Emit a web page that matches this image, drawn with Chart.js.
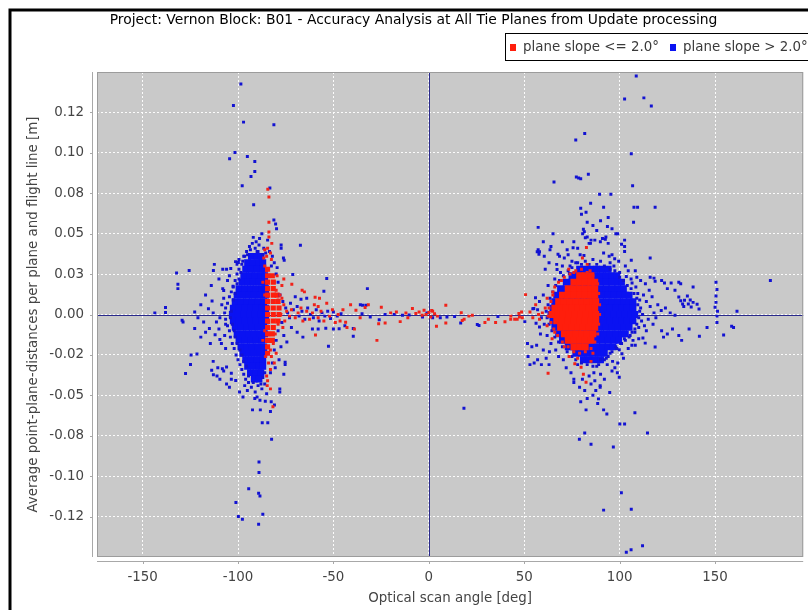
<!DOCTYPE html>
<html>
<head>
<meta charset="utf-8">
<script src="https://cdn.jsdelivr.net/npm/chart.js@4.4.1/dist/chart.umd.min.js"></script>
<style>
  html, body { margin: 0; padding: 0; background: #fff; }
  #wrap { width: 808px; height: 610px; }
</style>
</head>
<body>
<div id="wrap"><canvas id="chart" width="808" height="610"></canvas></div>
<script>
// Series names and axis ticks
const chartTitle = 'Project: Vernon Block: B01 - Accuracy Analysis at All Tie Planes from Update processing';
const seriesNames = ['plane slope <= 2.0°', 'plane slope > 2.0°'];
const xTickValues = [-150, -100, -50, 0, 50, 100, 150];
const yTickValues = [-0.125, -0.1, -0.075, -0.05, -0.025, 0, 0.025, 0.05, 0.075, 0.1, 0.125];
const yTickLabels = ['-0.12', '-0.10', '-0.08', '-0.05', '-0.02', '0.00', '0.03', '0.05', '0.08', '0.10', '0.12'];

// Red: plane slope <= 2.0  [scan angle, distance]
const redPoints = [
  [-84.4,0.0775],[-83.8,0.0727],[-83.8,0.057],[-83.8,0.051],[-83.8,0.048],[-82.3,0.044],[-84.5,0.041],[-83,0.038],
  [-85,0.036],[-82.5,0.034],[-71.8,0.0187],[-66.4,0.015],[-65.2,0.014],[-59.6,0.0107],[-57.3,0.01],[-81.7,-0.057],
  [-84.7,-0.044],[-27.2,-0.016],[-59.4,-0.0127],[-84,-0.03],[-83,-0.034],[-85,-0.038],[-82.5,-0.026],[-84.5,-0.041],
  [-83,-0.046],[-78,0.012],[-76,0.006],[-74.5,0.002],[-73,-0.001],[-75.5,-0.004],[-77,0.018],[-76,0.022],[-72,0.003],
  [-70,-0.002],[-68.5,0.001],[-67,0.004],[-66,-0.004],[-64,0.002],[-62.5,-0.003],[-61,0.001],[-60,0.006],[-58,-0.002],
  [-56.5,0.002],[-55,-0.004],[-53.5,0.007],[-52,-0.001],[-50.5,0.003],[-49,-0.005],[-47.5,0.0],[-45,0.003],
  [-43.6,-0.0048],[-42.9,-0.0081],[-39,-0.009],[-38.2,0.0026],[-33.4,0.0043],[-31.7,0.006],[-24.9,0.0045],
  [-22.9,-0.0053],[-26.3,-0.0057],[-15,-0.0044],[-12,0.0009],[-8.6,0.0037],[-6.8,0.0006],[-5.1,0.0016],[-2.5,0.0026],
  [-1.5,0.0],[0,0.0013],[1,-0.0015],[2,0.002],[3,0.0005],[4.5,-0.001],[-3.5,-0.0005],[1.5,0.0025],[8.9,0.0057],
  [4,-0.0073],[8.9,-0.0053],[17,0.0011],[17.5,-0.0037],[18.5,-0.003],[21,-0.001],[22.8,-0.0005],[29.4,-0.005],
  [31.2,-0.003],[35,-0.005],[39.9,-0.0045],[42.9,-0.003],[46.3,-0.003],[47.2,0.0006],[48.6,0.0016],[50.7,0.0123],
  [-58,0.005],[-46.5,-0.004],[-41,0.006],[-36,-0.002],[-20,0.001],[-11,-0.002],[-17,0.0015],
  [43,-0.001],[45,-0.003],[47.5,-0.0015],[49,-0.002],[62.5,-0.0363],[76.5,-0.0305],[79.8,-0.0326],[82.4,-0.0419],
  [81,-0.037],[64.6,-0.015],[82.6,0.0415],[73.3,0.028],[76,0.026],[80.5,0.035],[83,0.031],[61,0.004],[59.5,0.001],
  [58,-0.003],[56,0.006],[62,-0.007],[65,0.014],[66,-0.011],[69.5,0.021],[71,-0.02],[73.5,-0.026],[78,-0.027],
  [84.5,0.027],[86,-0.024],[85,-0.029],[62,0.01],[57.5,0.0],[53,0.0015],[54.5,-0.002],
  [-86,0.03],[-85,0.027],[-83.5,0.024],[-81,0.02],[-80,0.015],[-79,0.009],[-78.5,0.004],[-77.5,0.0],[-79,-0.006],
  [-80.5,-0.012],[-81.5,-0.018],[-83,-0.022],[-85.5,-0.026],[-86,0.012],[-86,-0.01],[-82,0.008],[-84,-0.005],
  [-87,0.02],[-87,-0.016],[-80,-0.024],[-79.5,0.024],[-77,0.01],[-76.5,-0.008],[-81,-0.03],[-86.5,0.035],[-86,0.04]
];
// Red points along the rim of the right cluster
const redRimPoints = [
  [66,0.017],[68,0.02],[71,0.023],[74,0.025],[77,0.027],[80,0.028],[83,0.026],[86,0.024],[88.5,0.019],[89,0.013],
  [89.5,0.006],[89.5,0.0],[89,-0.006],[88.5,-0.012],[87,-0.017],[85,-0.021],[82,-0.023],[79,-0.024],[76,-0.023],
  [73,-0.02],[70,-0.017],[67.5,-0.013],[65.5,-0.009],[64,-0.005],[62.5,-0.001],[63,0.004],[64,0.008],[65,0.012]
];

// Blue: plane slope > 2.0, left side and centre
const bluePointsLeft = [
  [-98.5,0.1426],[-102.4,0.1293],[-97.1,0.119],[-81.2,0.1174],[-101.6,0.1002],[-104.4,0.0963],[-95.1,0.0977],
  [-91.2,0.0946],[-91.2,0.0884],[-93.2,0.0853],[-97.8,0.0797],[-83.3,0.0783],[-91.8,0.0679],[-81.2,0.0584],
  [-80.3,0.056],[-79.8,0.053],[-67.3,0.0429],[-77.4,0.043],[-77.4,0.041],[-76.2,0.035],[-75.8,0.0335],[-71.3,0.0248],
  [-53.5,0.0223],[-32.2,0.016],[-132.2,0.0257],[-125.6,0.0272],[-131.5,0.0187],[-131.5,0.016],[-112.4,0.031],
  [-112.9,0.0272],[-106,0.028],[-103.8,0.0285],[-101.3,0.0327],[-99.8,0.0322],[-108,0.016],[-107.5,0.0148],
  [-92,0.0477],[-90.5,0.045],[-89,0.043],[-88.7,0.047],[-86.5,0.041],[-85.5,0.038],[-90,0.039],[-93.5,0.04],
  [-87.5,0.05],[-84.5,0.046],[-95,0.037],[-97,0.036],[-99.5,0.034],[-100.5,0.031],[-83.5,0.039],[-82,0.036],
  [-108,0.028],[-104.5,0.024],[-102.6,0.0175],[-105.5,0.021],[-110,0.022],[-114,0.018],[-117,0.012],[-119.5,0.006],
  [-122.7,0.0016],[-121,-0.002],[-118,-0.0047],[-115.5,0.0035],[-113,0.001],[-111.3,-0.0047],[-108.5,0.006],
  [-109.5,-0.002],[-107.5,0.01],[-106.5,-0.006],[-122.7,-0.0087],[-119.5,-0.014],[-117,-0.011],[-115,-0.0087],
  [-114.5,-0.018],[-112,-0.0125],[-110,-0.009],[-109.5,-0.0155],[-108.7,-0.018],[-107,-0.013],[-106.5,-0.021],
  [-124.6,-0.025],[-127.5,-0.0365],[-113.8,-0.0345],[-113,-0.029],[-111,-0.038],[-109.5,-0.04],[-107.5,-0.035],
  [-106,-0.043],[-104.5,-0.045],[-103.5,-0.04],[-129.3,-0.0036],[-128.8,-0.0046],[-124.9,-0.0309],[-121.5,-0.0245],
  [-113.6,0.0084],[-112.9,-0.0373],[-110.6,-0.033],[-108.2,-0.0335],[-106,-0.0325],[-103.5,-0.0363],[-101.2,-0.0408],
  [-99.2,-0.048],[-97.4,-0.051],[-95.1,-0.047],[-91.2,-0.052],[-88.5,-0.053],[-85.7,-0.0537],[-92.4,-0.059],
  [-88.3,-0.059],[-82.6,-0.054],[-80.9,-0.056],[-83,-0.06],[-78.1,-0.046],[-78.1,-0.048],[-87.3,-0.067],
  [-84.4,-0.067],[-82.4,-0.0772],[-89,-0.0913],[-89,-0.0977],[-94.4,-0.1078],[-89.2,-0.1105],[-88.5,-0.1123],
  [-101.1,-0.1163],[-99.8,-0.125],[-97.7,-0.1266],[-87,-0.1235],[-89.2,-0.1297],[-75.3,-0.0295],[-75.3,-0.031],
  [-76,-0.037],[-74.4,-0.017],[-143.6,0.001],[-138,0.0043],[-138,0.0012],
  [-93,-0.045],[-91,-0.048],[-89.5,-0.044],[-87.5,-0.046],[-86,-0.043],[-94.5,-0.042],[-96.5,-0.044],[-85,-0.049],
  [-90,-0.051],[-80,0.025],[-79,0.02],[-78,0.012],[-76.5,0.008],[-75,0.004],[-74,0.001],[-73,-0.002],[-77,-0.005],
  [-79,-0.01],[-80,-0.016],[-81,-0.022],[-82,-0.03],[-83,-0.036],[-80.5,-0.033],[-82.5,0.03],[-81,0.032],
  [-79.5,0.029],[-78.5,-0.028],[-77.5,-0.02],[-76,-0.013],[-72.5,0.007],[-71,0.003],[-69,0.005],[-68,-0.001],
  [-66.5,0.002],[-65,-0.003],[-63.5,0.004],[-62,0.0],[-60.5,-0.002],[-59,0.003],[-57.5,-0.004],[-56,0.001],
  [-54.5,-0.001],[-53,0.002],[-51.5,-0.0025],[-50,0.0015],[-48,-0.001],[-46,0.0005],[-55,0.0144],[-61,-0.009],
  [-58,-0.009],[-54,-0.0085],[-50,-0.009],[-47,-0.0088],[-44,-0.007],[-39.6,-0.0135],[-39.6,-0.0086],
  [-52.6,-0.0197],[-70,0.011],[-67,0.0095],[-64,0.01],[-72,-0.008],[-69,-0.011],[-66,-0.014],[-35.9,0.006],
  [-34.7,0.0057],[-33,0.0057],[-35,0.0005],[-30.7,-0.0015],[-26,-0.0032],[-22.9,0.0],[-18.1,0.0],[-13.8,-0.0005],
  [-10.3,-0.0003],[-3.3,-0.0015],[-1,0.001],[2,-0.002],[6,-0.002],[9.5,-0.0015],[13.5,-0.0013],[16.7,-0.0053],
  [25.4,-0.0062],[26.3,-0.0068],[36.2,-0.0013],[18.4,-0.058]
];

// Blue: plane slope > 2.0, right side
const bluePointsRight = [
  [108.7,0.1475],[102.6,0.1333],[112.7,0.134],[116.6,0.129],[81.7,0.112],[77,0.108],[106.1,0.0994],[65.6,0.082],
  [77.3,0.085],[78.5,0.0845],[79.6,0.084],[83.6,0.0868],[106.8,0.0797],[89.5,0.0744],[95.4,0.0744],[84.8,0.0688],
  [79.6,0.0657],[82.4,0.0632],[91.6,0.0663],[107.5,0.0663],[109.4,0.0663],[118.6,0.0663],[107.3,0.057],[57.3,0.0539],
  [65.1,0.05],[81,0.0527],[81.5,0.0512],[93.6,0.0545],[83,0.048],[85,0.046],[84,0.044],[87,0.046],[98,0.05],
  [91,0.047],[92.5,0.0465],[92.8,0.048],[57.3,0.04],[58,0.0388],[67.7,0.0373],[68.5,0.036],[75.6,0.0413],
  [102.6,0.042],[102.6,0.039],[106.1,0.0336],[116,0.035],[79.3,0.037],[81.3,0.0365],[67.2,0.0278],[73.7,0.0254],
  [108.2,0.027],[109,0.023],[116,0.023],[118,0.0225],[122,0.021],[123.5,0.0195],[127,0.0195],[131,0.02],[132,0.019],
  [138.5,0.017],[135.5,0.0115],[137,0.009],[138.5,0.0075],[140.6,0.0063],[132,0.0085],[133.6,0.005],[141.6,0.0034],
  [150.5,0.02],[151,0.0155],[150.5,0.0115],[150.5,0.0075],[150,0.0045],[151.3,0.002],[161.5,0.002],[179,0.021],
  [55,0.0037],[80.6,0.05],[82,0.0475],[84.7,0.044],[89.9,0.045],[94,0.044],[99,0.05],[102.6,0.046],[101,0.0435],
  [91.6,0.038],[94.5,0.036],[97.4,0.0345],[96,0.037],[99.5,0.033],[103,0.03],[104.5,0.027],[100,0.026],[106,0.022],
  [118.6,0.0205],[125,0.016],[129,0.015],[121.8,0.0025],[124,0.004],[126.5,0.001],[129,-0.0005],[134,0.0088],
  [136,0.0065],[137.5,0.0047],[131,0.0108],[133,0.0065],[56.8,0.0388],[57.7,0.0373],[60,0.045],[64,0.042],[70,0.045],
  [72.5,0.04],[63,0.032],[61,0.028],[66,0.022],[62.5,0.018],[60,0.012],[58,0.008],[57,0.003],[59,-0.002],
  [60.5,-0.006],[58.5,-0.012],[62,-0.013],[64,-0.018],[66.5,-0.022],[68,-0.026],[70.5,-0.028],[72,-0.033],
  [74.5,-0.036],[76,-0.04],[78,-0.031],[88,-0.032],[90,-0.028],[93,-0.027],[95,-0.024],[98,-0.02],[100.5,-0.018],
  [103,-0.016],[105.5,-0.013],[108,-0.011],[110,-0.008],[111.5,-0.004],[112,0.0],[111,0.004],[110.5,0.009],
  [109.5,0.013],[108.5,0.017],[106.5,0.0195],[103.5,0.0235],[97,0.03],[95,0.032],[90,0.033],[86,0.034],[82,0.033],
  [78,0.032],[74,0.03],[70,0.03],[114,0.008],[116,0.005],[118,0.001],[115,-0.003],[117.5,-0.006],[114,-0.01],
  [112.2,-0.0146],[113.4,-0.0177],[118.6,-0.0201],[106.4,-0.019],[108.2,-0.019],[99.8,-0.0218],[101.2,-0.0243],
  [96.3,-0.029],[97.5,-0.033],[98.8,-0.036],[99.8,-0.0388],[94.8,-0.0483],[88.9,-0.0522],[89.8,-0.044],[89.8,-0.045],
  [91.6,-0.059],[93.3,-0.0615],[108,-0.0608],[100.1,-0.0677],[102.6,-0.0677],[114.6,-0.0733],[81.7,-0.0733],
  [78.9,-0.0772],[85,-0.0803],[96.7,-0.082],[100.9,-0.1103],[91.6,-0.121],[106.1,-0.1204],[103.5,-0.147],
  [106,-0.1455],[112,-0.143],[151,-0.001],[151,-0.005],[158.7,-0.0073],[159.7,-0.008],[154.5,-0.0127],[145.8,-0.008],
  [141.8,-0.0135],[136.4,-0.009],[131,-0.013],[132.5,-0.016],[122,-0.01],[125,-0.012],[127.7,-0.009],[123,-0.014],
  [51.7,-0.018],[54,-0.02],[56.5,-0.019],[60,-0.022],[63.2,-0.023],[55.2,-0.03],[59,-0.031],[76,-0.042],[79,-0.045],
  [81.7,-0.047],[79.6,-0.054],[82.4,-0.059],[84,-0.038],[86.5,-0.036],[85,-0.043],[87.5,-0.047],[50.3,-0.0044],
  [55.9,0.0104],[54.5,0.0036],[56.2,-0.0054],[58,-0.0077],[52,-0.026],[53,-0.031],[57,-0.028],[61.5,-0.027],
  [63,-0.031],[60.5,0.036],[63.5,0.04],[67,0.031],[69,0.026],[71,0.035],[73,0.037],[75,0.033],[76,0.045],[78,0.041],
  [80,0.062],[83,0.057],[86,0.055],[88,0.052],[90,0.058],[94,0.06],[96,0.053],[112.5,0.012],[113,-0.007],
  [115.5,0.015],[117,0.011],[119,-0.002],[120,0.006],[113.5,0.019],[111,0.021],[110,-0.015],[107,-0.016],
  [104.5,-0.021],[102,-0.027],[99,-0.03],[96,-0.035],[93.5,-0.031],[92,-0.04],[90,-0.037],[87,-0.041],[88.5,-0.055],
  [86,-0.05],[83,-0.052],[80.5,-0.04]
];
// Blue points along the rims of both clusters
const blueRimPoints = [
  [-96.5,0.036],[-95.5,0.039],[-94,0.042],[-91,0.041],[-89.5,0.039],[-87,0.037],[-98,0.031],[-99.5,0.028],
  [-100.5,0.025],[-101.5,0.021],[-102.5,0.017],[-103.5,0.014],[-104.5,0.011],[-105.5,0.007],[-106.5,0.004],
  [-107,0.001],[-106.5,-0.003],[-105.5,-0.007],[-104.5,-0.01],[-104,-0.014],[-103,-0.018],[-102,-0.021],[-101,-0.025],
  [-100,-0.028],[-99,-0.031],[-98,-0.034],[-97,-0.037],[-96,-0.04],[-94.5,-0.038],[-95.5,-0.032],[-97,-0.029],
  [-98,-0.025],[-99,-0.022],[-100.5,-0.018],[-101.5,-0.014],[-102,-0.01],[-103,-0.006],[-104,-0.002],[-103.5,0.002],
  [-102.5,0.009],[-101.5,0.013],[-100.5,0.019],[-99.5,0.022],[-98.5,0.026],[-97.5,0.033],[-92.5,0.044],[-87,-0.039],
  [-86,-0.036],[-88,-0.043],[-92,-0.042],
  [77,0.032],[80,0.031],[84,0.031],[88,0.031],[92,0.03],[95,0.028],[97.5,0.027],[100,0.023],[102,0.021],[104,0.018],
  [106,0.016],[107.5,0.013],[109,0.01],[109.5,0.006],[110.5,0.002],[110,-0.002],[109,-0.006],[108,-0.009],
  [106.5,-0.011],[105,-0.014],[102.5,-0.015],[101,-0.018],[98.5,-0.021],[96,-0.023],[94,-0.026],[92,-0.028],
  [89,-0.031],[86,-0.032],[83,-0.031],[80,-0.03],[77,-0.028],[75,-0.026],[72.5,-0.023],[70,-0.02],[68,-0.017],
  [66,-0.014],[64.5,-0.01],[63,-0.006],[62,-0.002],[61.5,0.002],[62.5,0.006],[63.5,0.01],[65,0.014],[66.5,0.018],
  [68.5,0.021],[70.5,0.024],[73,0.027],[75,0.029]
];

// Dense cores of the two clusters, one row per distance level: [distance, [scan angles]]
const blueCoreLeftRows = [
  [0.036, [-93,-90,-88]],
  [0.032, [-95,-92,-89,-87]],
  [0.028, [-96,-93,-90,-87]],
  [0.024, [-97,-94,-91,-88,-86]],
  [0.020, [-98,-95,-92,-89,-86]],
  [0.016, [-99.5,-96.5,-93.5,-90.5,-87.5,-85.5]],
  [0.012, [-100.5,-97.5,-94.5,-91.5,-88.5,-85.5]],
  [0.008, [-101.5,-98.5,-95.5,-92.5,-89.5,-86.5]],
  [0.004, [-102.5,-99.5,-96.5,-93.5,-90.5,-87.5,-85.5]],
  [0.000, [-103,-100,-97,-94,-91,-88,-85.5]],
  [-0.004, [-102.5,-99.5,-96.5,-93.5,-90.5,-87.5,-85.5]],
  [-0.008, [-101.5,-98.5,-95.5,-92.5,-89.5,-86.5]],
  [-0.012, [-100.5,-97.5,-94.5,-91.5,-88.5,-86]],
  [-0.016, [-99.5,-96.5,-93.5,-90.5,-87.5]],
  [-0.020, [-98.5,-95.5,-92.5,-89.5,-86.5]],
  [-0.024, [-97.5,-94.5,-91.5,-88.5,-86.5]],
  [-0.028, [-96,-93,-90,-87]],
  [-0.032, [-95,-92,-89,-87]],
  [-0.036, [-93.5,-90.5,-88]],
  [-0.040, [-91.5,-89]]
];
const blueCoreRightRows = [
  [0.028, [79,82,85,88,91,94]],
  [0.024, [75,78,81,84,87,90,93,96,98.5]],
  [0.020, [72,75,78,81,84,87,90,93,96,99,101]],
  [0.016, [69,72,75,78,81,84,87,90,93,96,99,102]],
  [0.012, [67,70,73,76,79,82,85,88,91,94,97,100,103,105]],
  [0.008, [66,69,72,75,78,81,84,87,90,93,96,99,102,105,107]],
  [0.004, [65,68,71,74,77,80,83,86,89,92,95,98,101,104,107]],
  [0.000, [64,67,70,73,76,79,82,85,88,91,94,97,100,103,106,108]],
  [-0.004, [65,68,71,74,77,80,83,86,89,92,95,98,101,104,107]],
  [-0.008, [66,69,72,75,78,81,84,87,90,93,96,99,102,105]],
  [-0.012, [68,71,74,77,80,83,86,89,92,95,98,101,103]],
  [-0.016, [70,73,76,79,82,85,88,91,94,97,99.5]],
  [-0.020, [73,76,79,82,85,88,91,94,96.5]],
  [-0.024, [77,80,83,86,89,92]],
  [-0.028, [81,84,87,90]]
];
const redCoreLeftRows = [
  [0.028, [-84.5]],
  [0.024, [-84.5,-82]],
  [0.020, [-84.5,-81.5]],
  [0.016, [-84.5,-81.5]],
  [0.012, [-84.5,-81.5,-79.5]],
  [0.008, [-84.5,-81.5,-79]],
  [0.004, [-84.5,-81.5,-78.5]],
  [0.000, [-84.5,-81.5,-78.5]],
  [-0.004, [-84.5,-81.5,-79]],
  [-0.008, [-84.5,-81.5]],
  [-0.012, [-84.5,-82]],
  [-0.016, [-84.5,-82]],
  [-0.020, [-84.5]],
  [-0.024, [-84.5]]
];
const redCoreRightRows = [
  [0.024, [79,82,85]],
  [0.020, [76,79,82,85,87]],
  [0.016, [73,76,79,82,85,87]],
  [0.012, [70,73,76,79,82,85,87]],
  [0.008, [68,71,74,77,80,83,86,87.5]],
  [0.004, [66,69,72,75,78,81,84,87]],
  [0.000, [64.5,67.5,70.5,73.5,76.5,79.5,82.5,85.5,87.5]],
  [-0.004, [67,70,73,76,79,82,85,87.5]],
  [-0.008, [69,72,75,78,81,84,87]],
  [-0.012, [71,74,77,80,83,86]],
  [-0.016, [73,76,79,82,85]],
  [-0.020, [76,79,82]]
];

const RED = '#ff1e0c';
const RED_DOT = '#f0221a';
const BLUE = '#0a12f2';
const BLUE_DOT = '#1212d2';
const FONT = 'DejaVu Sans';

function pairsToPoints(pairs) {
  return pairs.map(p => ({ x: p[0], y: p[1] }));
}
function rowsToPoints(rows) {
  const out = [];
  rows.forEach(r => r[1].forEach(x => out.push({ x: x, y: r[0] })));
  return out;
}

function pointSet(label, data, color, radius) {
  return {
    label: label,
    data: data,
    backgroundColor: color,
    pointStyle: 'rect',
    pointRadius: radius,
    pointHoverRadius: radius,
    pointBorderWidth: 0,
    showLine: false
  };
}

// Plot background, zero lines, axes, frame, title and legend
const decorPlugin = {
  id: 'decor',
  beforeDraw(chart) {
    const { ctx, chartArea: a } = chart;
    ctx.save();
    ctx.fillStyle = '#ffffff';
    ctx.fillRect(0, 0, chart.width, chart.height);
    ctx.fillStyle = '#c9c9c9';
    ctx.fillRect(a.left, a.top, a.right - a.left, a.bottom - a.top);
    ctx.restore();
  },
  beforeDatasetsDraw(chart) {
    const { ctx, chartArea: a, scales } = chart;
    const x0 = Math.round(scales.x.getPixelForValue(0)) + 0.5;
    const y0 = Math.round(scales.y.getPixelForValue(0)) + 0.5;
    ctx.save();
    ctx.strokeStyle = '#2a2a8c';
    ctx.lineWidth = 1;
    ctx.beginPath();
    ctx.moveTo(x0, a.top); ctx.lineTo(x0, a.bottom);
    ctx.moveTo(a.left, y0); ctx.lineTo(a.right, y0);
    ctx.stroke();
    ctx.restore();
  },
  afterDraw(chart) {
    const { ctx, chartArea: a, scales } = chart;
    ctx.save();
    // plot outline
    ctx.strokeStyle = '#9c9c9c';
    ctx.lineWidth = 1;
    ctx.strokeRect(a.left + 0.5, a.top + 0.5, a.right - a.left - 1, a.bottom - a.top - 1);
    // axis lines with outward ticks, offset from the plot
    ctx.strokeStyle = '#a8a8a8';
    ctx.beginPath();
    ctx.moveTo(a.left - 4.5, a.top); ctx.lineTo(a.left - 4.5, a.bottom);
    yTickValues.forEach(v => {
      const py = Math.round(scales.y.getPixelForValue(v)) + 0.5;
      ctx.moveTo(a.left - 7, py); ctx.lineTo(a.left - 4.5, py);
    });
    ctx.moveTo(a.left, a.bottom + 4.5); ctx.lineTo(a.right, a.bottom + 4.5);
    xTickValues.forEach(v => {
      const px = Math.round(scales.x.getPixelForValue(v)) + 0.5;
      ctx.moveTo(px, a.bottom + 4.5); ctx.lineTo(px, a.bottom + 7);
    });
    ctx.stroke();
    // black frame
    ctx.strokeStyle = '#000';
    ctx.lineWidth = 3;
    ctx.beginPath();
    ctx.moveTo(10, chart.height); ctx.lineTo(10, 10); ctx.lineTo(chart.width, 10);
    ctx.stroke();
    // title
    ctx.fillStyle = '#000';
    ctx.font = '13.9px "' + FONT + '"';
    ctx.textAlign = 'center';
    ctx.textBaseline = 'middle';
    ctx.fillText(chartTitle, 413.5, 20);
    // legend
    ctx.font = '13.4px "' + FONT + '"';
    ctx.fillStyle = '#fff';
    ctx.fillRect(505.5, 33.5, 320, 27);
    ctx.strokeStyle = '#000';
    ctx.lineWidth = 1;
    ctx.strokeRect(505.5, 33.5, 320, 27);
    const legendX = [510, 670];
    const legendColors = [RED, BLUE];
    ctx.textAlign = 'left';
    seriesNames.forEach((name, i) => {
      ctx.fillStyle = legendColors[i];
      ctx.fillRect(legendX[i], 44, 6, 7);
      ctx.fillStyle = '#3a3a3a';
      ctx.fillText(name, legendX[i] + 13, 47.5);
    });
    ctx.restore();
  }
};

new Chart(document.getElementById('chart'), {
  type: 'scatter',
  data: {
    datasets: [
      pointSet(seriesNames[0], pairsToPoints(redPoints.concat(redRimPoints)), RED_DOT, 2.1),
      pointSet(seriesNames[1], pairsToPoints(bluePointsLeft.concat(bluePointsRight, blueRimPoints)), BLUE_DOT, 2.1),
      pointSet(seriesNames[0], rowsToPoints(redCoreLeftRows), RED, 3.6),
      pointSet(seriesNames[0], rowsToPoints(redCoreRightRows), RED, 4.8),
      pointSet(seriesNames[1], rowsToPoints(blueCoreLeftRows.concat(blueCoreRightRows)), BLUE, 4.8)
    ]
  },
  options: {
    responsive: false,
    animation: false,
    devicePixelRatio: 1,
    layout: { padding: { left: 0, right: 3, top: 72, bottom: 0 } },
    plugins: {
      legend: { display: false },
      title: { display: false },
      tooltip: { enabled: false }
    },
    scales: {
      x: {
        type: 'linear',
        min: -173.9,
        max: 196.2,
        afterFit: s => { s.height = 53; },
        afterBuildTicks: s => { s.ticks = xTickValues.map(v => ({ value: v })); },
        grid: { color: 'rgba(255,255,255,0.95)', lineWidth: 1, drawTicks: false },
        border: { display: false, dash: [2, 2] },
        ticks: { color: '#444', font: { family: FONT, size: 13.4 }, padding: 12, maxRotation: 0, autoSkip: false },
        title: {
          display: true,
          text: 'Optical scan angle [deg]',
          color: '#444',
          font: { family: FONT, size: 13.4 },
          padding: { top: 0, bottom: 3 }
        }
      },
      y: {
        type: 'linear',
        min: -0.15,
        max: 0.15,
        afterFit: s => { s.width = 97; },
        afterBuildTicks: s => { s.ticks = yTickValues.map(v => ({ value: v })); },
        grid: { color: 'rgba(255,255,255,0.95)', lineWidth: 1, drawTicks: false },
        border: { display: false, dash: [2, 2] },
        ticks: {
          color: '#444',
          font: { family: FONT, size: 13.4 },
          padding: 13,
          autoSkip: false,
          callback: (v, i) => yTickLabels[i]
        },
        title: {
          display: true,
          text: 'Average point-plane-distances per plane and flight line [m]',
          color: '#444',
          font: { family: FONT, size: 13.4 },
          padding: { top: 25, bottom: 0 }
        }
      }
    }
  },
  plugins: [decorPlugin]
});
</script>
</body>
</html>
